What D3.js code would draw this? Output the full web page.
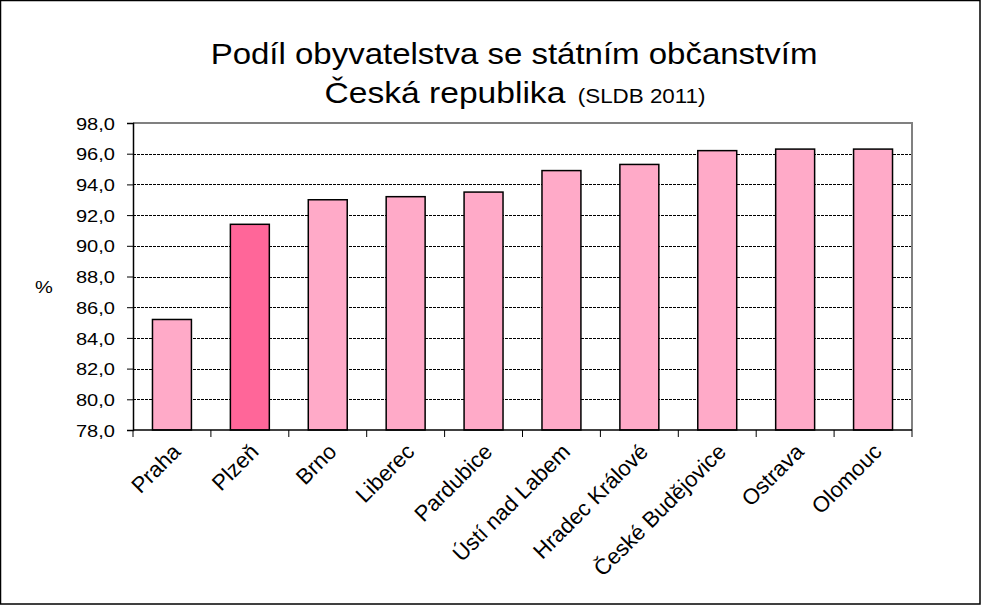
<!DOCTYPE html>
<html><head><meta charset="utf-8">
<script src="https://cdn.jsdelivr.net/npm/d3@7"></script>
<style>
body{margin:0;background:#fff;}
svg{display:block;font-family:Arial,"Liberation Sans",sans-serif;}
</style></head>
<body><svg id="c" width="981" height="606"></svg>
<script>
const categories = ["Praha","Plzeň","Brno","Liberec","Pardubice","Ústí nad Labem","Hradec Králové","České Budějovice","Ostrava","Olomouc"];
const values = [85.2, 91.4, 93.0, 93.2, 93.5, 94.9, 95.3, 96.2, 96.3, 96.3];
const highlight = ["Plzeň"];
const yTicks = [78,80,82,84,86,88,90,92,94,96,98];
const titleLine1 = "Podíl obyvatelstva se státním občanstvím";
const titleLine2 = "Česká republika";
const titleNote = "(SLDB 2011)";
const yLabel = "%";

const svg = d3.select("#c");
const L=133, R=912, T=123, B=430;
svg.append("rect").attr("x",0.5).attr("y",0.5).attr("width",979.5).attr("height",603.5)
  .attr("fill","#fff").attr("stroke","#000").attr("stroke-width",1.5);

const x = d3.scaleBand().domain(categories).range([L,R]).paddingInner(0.5).paddingOuter(0.25);
const y = d3.scaleLinear().domain([78,98]).range([B,T]);

// gridlines
svg.append("g").selectAll("line").data(yTicks.filter(t=>t>78&&t<98)).join("line")
  .attr("x1",L).attr("x2",R).attr("y1",d=>Math.round(y(d))+0.5).attr("y2",d=>Math.round(y(d))+0.5)
  .attr("stroke","#000").attr("stroke-width",1).attr("stroke-dasharray","3,1");

// plot border (top/right gray)
svg.append("path").attr("d",`M${L},${T}H${R}V${B}`).attr("fill","none").attr("stroke","#808080").attr("stroke-width",2);

// bars
svg.append("g").selectAll("rect").data(categories).join("rect")
  .attr("x",d=>x(d)).attr("width",x.bandwidth())
  .attr("y",(d,i)=>y(values[i])).attr("height",(d,i)=>B-y(values[i]))
  .attr("fill",d=>highlight.includes(d)?"#FF6699":"#FFAAC8")
  .attr("stroke","#000").attr("stroke-width",1.5);

// y axis
const ya = svg.append("g").attr("transform",`translate(${L},0)`)
  .call(d3.axisLeft(y).tickValues(yTicks).tickSize(6).tickFormat(d=>d3.format(".1f")(d).replace(".",",")));
ya.select(".domain").attr("stroke","#000").attr("stroke-width",1.5);
ya.selectAll(".tick line").attr("stroke","#000");
ya.selectAll(".tick text")
  .attr("x",null).attr("dy","0.36em")
  .attr("transform","translate(-18,0) scale(1.18,1)")
  .attr("font-size",17).attr("font-family","Arial,'Liberation Sans',sans-serif").attr("fill","#000");

// x axis
const step = x.step();
const bounds = d3.range(categories.length+1).map(i=>L + i*step);
svg.append("line").attr("x1",L).attr("x2",R).attr("y1",B).attr("y2",B).attr("stroke","#000").attr("stroke-width",1.5);
svg.append("g").selectAll("line").data(bounds).join("line")
  .attr("x1",d=>d).attr("x2",d=>d).attr("y1",B).attr("y2",B+7).attr("stroke","#000").attr("stroke-width",1);
svg.append("g").selectAll("text").data(categories).join("text")
  .attr("transform",d=>`translate(${x(d)+x.bandwidth()/2-1},${B+12}) rotate(-45)`)
  .attr("text-anchor","end").attr("dy","0.71em")
  .attr("font-size",22).text(d=>d);

// y label
svg.append("text").attr("transform","translate(44,293) scale(1.18,1)").attr("text-anchor","middle").attr("font-size",17).text(yLabel);

// title
svg.append("text").attr("transform","translate(514,64) scale(1.1,1)").attr("text-anchor","middle").attr("font-size",30).text(titleLine1);
const t2 = svg.append("text").attr("transform","translate(515,103) scale(1.12,1)").attr("text-anchor","middle").attr("font-size",30);
t2.append("tspan").text(titleLine2);
t2.append("tspan").attr("font-size",20).text("  "+titleNote).attr("xml:space","preserve");
</script></body></html>
